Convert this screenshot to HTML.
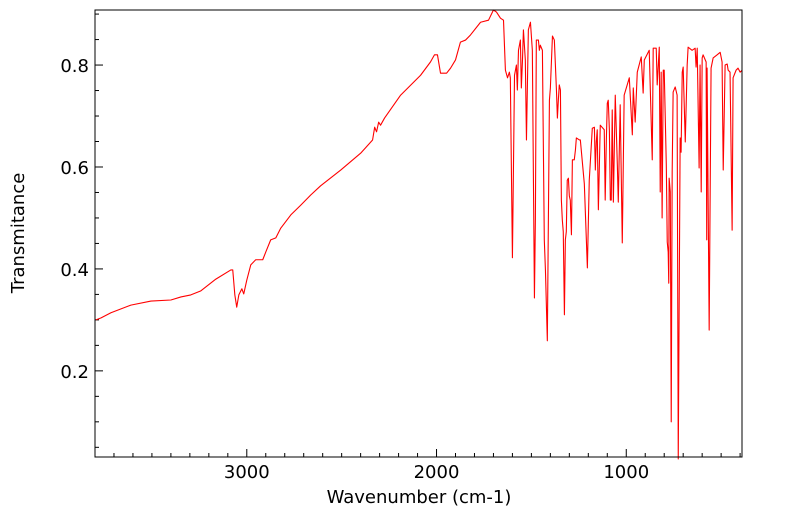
<!DOCTYPE html>
<html><head><meta charset="utf-8"><style>
html,body{margin:0;padding:0;background:#fff;}
svg{display:block;font-family:"DejaVu Sans","Liberation Sans",sans-serif;}
</style></head><body>
<svg id="chart" width="799" height="516" xmlns="http://www.w3.org/2000/svg">
<g id="axes"></g>
<path id="line" fill="none" stroke="#ff0000" stroke-width="1.1" stroke-linejoin="round"></path>
<rect x="95" y="10" width="647" height="447" fill="none" stroke="#000" stroke-width="1"></rect>
<text x="419" y="503" font-size="18" text-anchor="middle">Wavenumber (cm-1)</text>
<text transform="translate(24,233) rotate(-90)" font-size="18" text-anchor="middle">Transmitance</text>
</svg>
<script>
const wavenumbers=[3795,3768,3716,3611,3505,3400,3347,3295,3242,3163,3084,3074,3063,3053,3042,3026,3016,3000,2979,2953,2916,2900,2874,2847,2821,2768,2716,2663,2611,2505,2400,2337,2326,2316,2305,2295,2274,2189,2084,2032,2011,1995,1979,1947,1926,1900,1874,1847,1821,1768,1726,1700,1684,1663,1647,1637,1626,1616,1611,1600,1589,1579,1574,1568,1558,1553,1547,1542,1532,1526,1516,1505,1495,1484,1479,1474,1463,1458,1453,1442,1432,1426,1416,1405,1400,1389,1379,1368,1363,1358,1353,1347,1342,1337,1332,1326,1321,1316,1311,1305,1300,1295,1289,1284,1274,1268,1263,1247,1242,1221,1205,1195,1179,1168,1163,1158,1153,1147,1137,1116,1111,1105,1100,1095,1089,1084,1079,1074,1068,1058,1047,1042,1032,1021,1011,984,968,963,953,942,921,911,905,879,863,858,842,837,826,821,816,811,805,800,789,784,779,776,774,768,763,758,753,742,732,726,716,711,705,700,689,679,674,653,637,632,626,616,611,605,600,595,579,576,574,563,553,542,521,505,495,489,479,468,463,453,442,437,421,411,400,389];
const transmittance=[0.300,0.304,0.314,0.329,0.337,0.339,0.345,0.349,0.357,0.380,0.398,0.398,0.349,0.325,0.349,0.361,0.351,0.378,0.408,0.418,0.418,0.433,0.457,0.461,0.480,0.506,0.525,0.545,0.563,0.594,0.627,0.653,0.678,0.669,0.688,0.682,0.696,0.741,0.780,0.806,0.820,0.820,0.784,0.784,0.794,0.810,0.845,0.849,0.859,0.884,0.888,0.908,0.904,0.892,0.888,0.790,0.775,0.786,0.775,0.422,0.780,0.800,0.751,0.829,0.849,0.755,0.810,0.869,0.810,0.653,0.869,0.884,0.829,0.343,0.496,0.849,0.849,0.829,0.839,0.829,0.457,0.398,0.259,0.731,0.755,0.857,0.849,0.751,0.696,0.731,0.761,0.751,0.535,0.496,0.473,0.310,0.457,0.473,0.574,0.578,0.543,0.535,0.467,0.614,0.614,0.633,0.657,0.653,0.653,0.567,0.402,0.574,0.676,0.678,0.594,0.649,0.673,0.516,0.682,0.673,0.535,0.653,0.725,0.731,0.673,0.535,0.535,0.712,0.531,0.741,0.604,0.531,0.722,0.451,0.741,0.775,0.663,0.755,0.688,0.786,0.816,0.745,0.810,0.829,0.614,0.833,0.833,0.761,0.835,0.551,0.786,0.500,0.790,0.790,0.604,0.453,0.433,0.372,0.578,0.551,0.100,0.590,0.747,0.757,0.741,0.020,0.657,0.629,0.786,0.796,0.649,0.800,0.835,0.829,0.833,0.796,0.833,0.598,0.800,0.551,0.814,0.820,0.806,0.457,0.794,0.280,0.794,0.814,0.820,0.825,0.806,0.594,0.800,0.802,0.790,0.786,0.476,0.775,0.790,0.794,0.786,0.790];
const xTickLabels=[3000,2000,1000];
const yTickLabels=[0.2,0.4,0.6,0.8];
const X0=95,X1=742,Y0=10,Y1=457,WMAX=3800,WMIN=390,TMAX=0.908,TMIN=0.031;
function xs(w){return X0+(WMAX-w)/(WMAX-WMIN)*(X1-X0);}
function ys(t){return Y0+(TMAX-t)/(TMAX-TMIN)*(Y1-Y0);}
const NS="http://www.w3.org/2000/svg";
const axes=document.getElementById('axes');
function mk(tag,attrs){const e=document.createElementNS(NS,tag);for(const k in attrs)e.setAttribute(k,attrs[k]);axes.appendChild(e);return e;}
for(let w=3700;w>=400;w-=100){
  const x=xs(w),major=(w%1000===0);
  const t=mk('line',{x1:x,x2:x,y1:Y1,y2:Y1-(major?8:4),stroke:'#000'});
  
  
}
xTickLabels.forEach(w=>{
  const t=mk('text',{x:xs(w),y:478,'font-size':18,'text-anchor':'middle'});
  t.textContent=String(w);
  
  
});
for(let k=1;k<=18;k++){
  const v=k*0.05;if(v>TMAX||v<TMIN)continue;
  const y=ys(v),major=(k%4===0);
  const t=mk('line',{x1:X0,x2:X0+(major?8:4),y1:y,y2:y,stroke:'#000'});
  
  
}
yTickLabels.forEach(v=>{
  const t=mk('text',{x:89,y:ys(v)+7,'font-size':18,'text-anchor':'end'});
  t.textContent=v.toFixed(1);
  
  
});
let d='';
wavenumbers.forEach((w,i)=>{const ty=Math.max(ys(transmittance[i]),Y0);d+=(i?'L':'M')+xs(w).toFixed(2)+','+Math.min(ty,Y1+2).toFixed(2);});
document.getElementById('line').setAttribute('d',d);
</script>
</body></html>
